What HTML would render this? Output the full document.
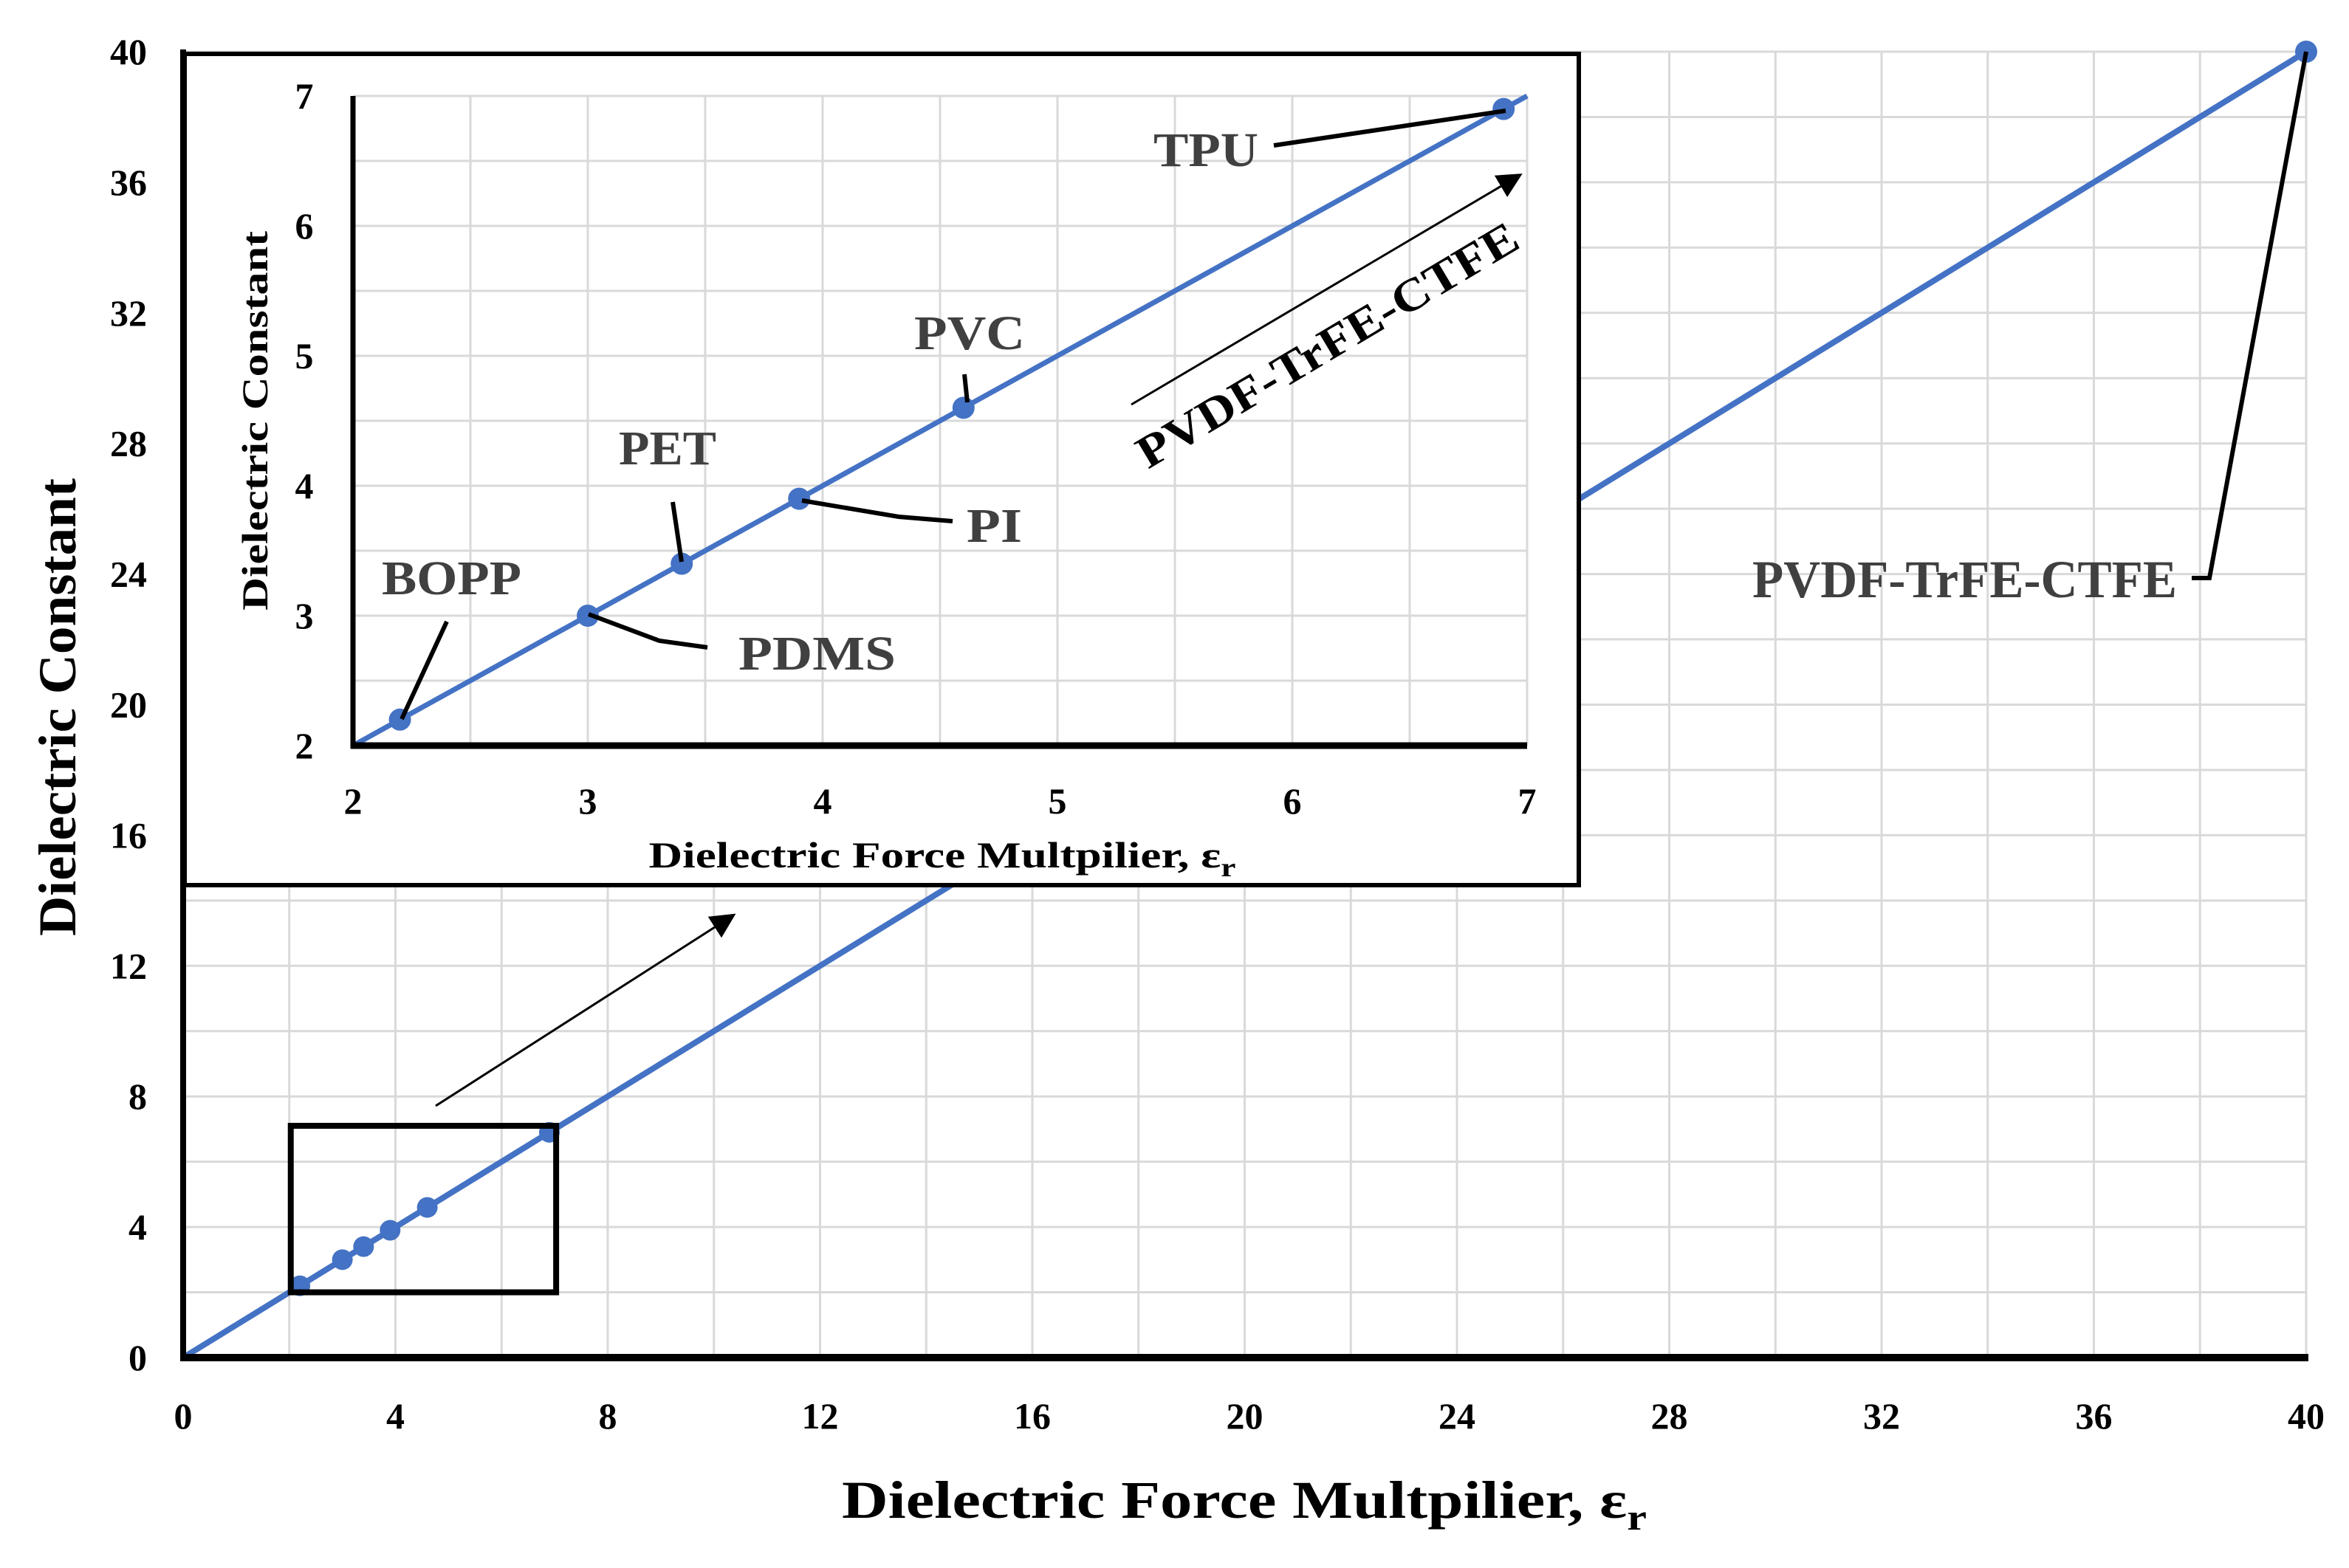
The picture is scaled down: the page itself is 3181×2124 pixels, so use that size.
<!DOCTYPE html>
<html><head><meta charset="utf-8"><style>
html,body{margin:0;padding:0;background:#fff;}
svg{display:block;font-family:"Liberation Serif",serif;font-weight:bold;}
</style></head><body>
<svg id="chart" width="3181" height="2124" viewBox="0 0 3181 2124" xmlns="http://www.w3.org/2000/svg">
<g id="main-grid"></g>
<g id="main-marks"></g>
<g id="main-axes"></g>
<g id="inset"></g>
</svg>
<script>
const materials = ["BOPP","PDMS","PET","PI","PVC","TPU","PVDF-TrFE-CTFE"];
const forceMultiplier = [2.2,3.0,3.4,3.9,4.6,6.9,40];
const dielectricConst = [2.2,3.0,3.4,3.9,4.6,6.9,40];
const mainXTicks = [0,4,8,12,16,20,24,28,32,36,40];
const mainYTicks = [0,4,8,12,16,20,24,28,32,36,40];
const insetXTicks = [2,3,4,5,6,7];
const insetYTicks = [2,3,4,5,6,7];

const NS="http://www.w3.org/2000/svg";
function mk(parent,tag,attrs,text){const e=document.createElementNS(NS,tag);for(const k in attrs)e.setAttribute(k,attrs[k]);if(text!==undefined)e.textContent=text;parent.appendChild(e);return e;}
const svg=document.getElementById('chart');

const mx=v=>248+(3123-248)*v/40;
const my=v=>1839-(1839-70)*v/40;
const gGrid=document.getElementById('main-grid');
for(let v=2;v<=40;v+=2){
  let l=mk(gGrid,'line',{x1:mx(v),x2:mx(v),y1:my(0),y2:my(40),stroke:'#d9d9d9','stroke-width':3});
  
  
  l=mk(gGrid,'line',{x1:mx(0),x2:mx(40),y1:my(v),y2:my(v),stroke:'#d9d9d9','stroke-width':3});
  
  
}
const gM=document.getElementById('main-marks');
let ln=mk(gM,'line',{x1:mx(0),y1:my(0),x2:mx(forceMultiplier[6]),y2:my(dielectricConst[6]),stroke:'#4472c4','stroke-width':8});


forceMultiplier.forEach((x,i)=>{
  const c=mk(gM,'circle',{cx:mx(x),cy:my(dielectricConst[i]),r:i==6?15:14,fill:'#4472c4'});
  
  
});
const gA=document.getElementById('main-axes');
let a=mk(gA,'line',{x1:mx(0),y1:my(0)-4,x2:mx(0),y2:my(40)-3,stroke:'#000','stroke-width':8});

a=mk(gA,'line',{x1:mx(0)-4,y1:my(0),x2:mx(40)+3,y2:my(0),stroke:'#000','stroke-width':10});

mainXTicks.forEach(v=>{const t=mk(gA,'text',{x:mx(v),y:1935,'font-size':50,'text-anchor':'middle',fill:'#000'},String(v));
  });
mainYTicks.forEach(v=>{const t=mk(gA,'text',{x:199,y:my(v)+17,'font-size':50,'text-anchor':'end',fill:'#000'},String(v));
  });
let tt=mk(gA,'text',{x:1685,y:2056,'font-size':72,'text-anchor':'middle',fill:'#000',textLength:1090,lengthAdjust:'spacingAndGlyphs'});

tt.innerHTML='Dielectric Force Multpilier, ε<tspan font-size="50" dy="16">r</tspan>';
tt=mk(gA,'text',{x:0,y:0,'font-size':72,'text-anchor':'middle',fill:'#000',transform:'translate(102,958) rotate(-90)',textLength:620,lengthAdjust:'spacingAndGlyphs'},'Dielectric Constant');

let zb=mk(gA,'rect',{x:mx(2)+2,y:my(7.1),width:mx(7)-mx(2),height:my(2)-my(7.1),fill:'none',stroke:'#000','stroke-width':8});

mk(svg,'defs',{}).innerHTML='<marker id="ah" markerWidth="34" markerHeight="34" refX="6" refY="5" orient="auto" markerUnits="userSpaceOnUse" viewBox="0 0 10 10"><path d="M0,0 L10,5 L0,10 z" fill="#000"/></marker>';
let ar=mk(gA,'line',{x1:590,y1:1498,x2:985,y2:1245,stroke:'#000','stroke-width':3,'marker-end':'url(#ah)'});

let pl=mk(gA,'text',{x:2373,y:809,'font-size':72,fill:'#404040',textLength:575,lengthAdjust:'spacingAndGlyphs'},'PVDF-TrFE-CTFE');

let pll=mk(gA,'polyline',{points:`2968,783 2992,783 ${mx(40)},${my(40)}`,fill:'none',stroke:'#000','stroke-width':6});


const gI=document.getElementById('inset');
let ib=mk(gI,'rect',{x:250,y:73,width:1888,height:1126,fill:'#fff',stroke:'#000','stroke-width':6});

const ix=v=>478+(2068-478)*(v-2)/5;
const iy=v=>1010-(1010-130)*(v-2)/5;
for(let v=2.5;v<=7.001;v+=0.5){
  let l=mk(gI,'line',{x1:ix(v),x2:ix(v),y1:iy(2),y2:iy(7),stroke:'#d9d9d9','stroke-width':3});
  
  l=mk(gI,'line',{x1:ix(2),x2:ix(7),y1:iy(v),y2:iy(v),stroke:'#d9d9d9','stroke-width':3});
  
}
let il=mk(gI,'line',{x1:ix(2),y1:iy(2),x2:ix(7),y2:iy(7),stroke:'#4472c4','stroke-width':7});

a=mk(gI,'line',{x1:ix(2),y1:iy(2)+4,x2:ix(2),y2:iy(7),stroke:'#000','stroke-width':7});

a=mk(gI,'line',{x1:ix(2)-3,y1:iy(2),x2:ix(7),y2:iy(2),stroke:'#000','stroke-width':9});

for(let i=0;i<6;i++){
  const c=mk(gI,'circle',{cx:ix(forceMultiplier[i]),cy:iy(dielectricConst[i]),r:15,fill:'#4472c4'});
  
  
}
insetXTicks.forEach(v=>{const t=mk(gI,'text',{x:ix(v),y:1102,'font-size':50,'text-anchor':'middle',fill:'#000'},String(v));
  });
insetYTicks.forEach(v=>{const t=mk(gI,'text',{x:412,y:iy(v)+17,'font-size':50,'text-anchor':'middle',fill:'#000'},String(v));
  });
tt=mk(gI,'text',{x:1276,y:1175,'font-size':50,'text-anchor':'middle',fill:'#000',textLength:795,lengthAdjust:'spacingAndGlyphs'});

tt.innerHTML='Dielectric Force Multpilier, ε<tspan font-size="36" dy="12">r</tspan>';
tt=mk(gI,'text',{x:0,y:0,'font-size':50,'text-anchor':'middle',fill:'#000',transform:'translate(362,570) rotate(-90)',textLength:514,lengthAdjust:'spacingAndGlyphs'},'Dielectric Constant');

const labelText=["BOPP","PDMS","PET","PI","PVC","TPU"];
const labelBox=[[517,805,189],[1000,907,213],[838,629,132],[1309,734,75],[1238,473,150],[1562,225,142]];
const leaders=[[[605,842],[544,974]],[[797,832],[893,868],[958,877]],[[911,680],[923,761]],[[1086,678],[1217,700],[1290,706]],[[1306,507],[1310,545]],[[1725,197],[2039,150]]];
labelText.forEach((s,i)=>{
  const b=labelBox[i];
  const t=mk(gI,'text',{x:b[0],y:b[1],'font-size':66,fill:'#404040',textLength:b[2],lengthAdjust:'spacingAndGlyphs'},s);
  
  const p=mk(gI,'polyline',{points:leaders[i].map(q=>q.join(',')).join(' '),fill:'none',stroke:'#000','stroke-width':6});
  
});
let ia=mk(gI,'line',{x1:1532,y1:548,x2:2050,y2:242,stroke:'#000','stroke-width':3,'marker-end':'url(#ah)'});

let rl=mk(gI,'text',{x:0,y:0,'font-size':62,'text-anchor':'middle',fill:'#000',transform:'translate(1808,485) rotate(-30.8)',textLength:590,lengthAdjust:'spacingAndGlyphs'},'PVDF-TrFE-CTFE');

</script>
</body></html>
